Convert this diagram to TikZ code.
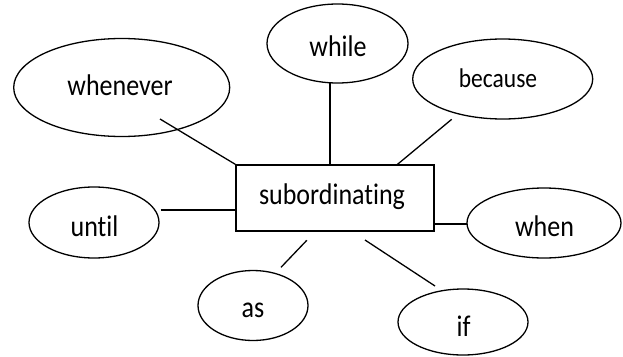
\documentclass[tikz,border=0pt]{standalone}
\usepackage{fontspec}
\setmainfont{Carlito}[Ligatures=NoCommon]
\usetikzlibrary{shapes.geometric}
\newcommand\talltext[1]{\scalebox{1}[1.15]{#1}}
\begin{document}
\begin{tikzpicture}[x=1pt,y=-1pt,
  oval/.style={draw=black,line width=1.3pt,ellipse,inner sep=0pt},
  word/.style={inner sep=0pt,anchor=center,font=\fontsize{26}{30}\selectfont},
  small/.style={inner sep=0pt,anchor=center,font=\fontsize{23.5}{28}\selectfont},
  link/.style={draw=black,line width=1.3pt}]
\useasboundingbox (0,0) rectangle (623,356);
% central box
\node[draw=black,line width=1.3pt,minimum width=198pt,minimum height=66pt,inner sep=0pt] (sub) at (335,198) {};
\node[word] (subt) at (332,197) {\talltext{subordinating}};
% ellipses
\node[oval,minimum width=216pt,minimum height=98pt] (whenever) at (121.7,87.5) {};
\node[word] (whenevert) at (120,85) {\talltext{whenever}};
\node[oval,minimum width=141pt,minimum height=79pt] (while) at (337.5,43.5) {};
\node[word] (whilet) at (338,46.5) {\talltext{while}};
\node[oval,minimum width=180pt,minimum height=80pt] (because) at (502.7,79) {};
\node[small] (becauset) at (498,78.5) {\talltext{because}};
\node[oval,minimum width=130pt,minimum height=71pt] (until) at (94,222.5) {};
\node[word] (untilt) at (94.5,226) {\talltext{until}};
\node[oval,minimum width=154pt,minimum height=70pt] (when) at (544,223) {};
\node[word] (whent) at (544.5,226) {\talltext{when}};
\node[oval,minimum width=110pt,minimum height=70pt] (as) at (253,305.5) {};
\node[word] (ast) at (253,310) {\talltext{as}};
\node[oval,minimum width=130pt,minimum height=66pt] (if) at (463,322) {};
\node[word] (ift) at (463.5,326.5) {\talltext{if}};
% connector end points
\coordinate (c1) at (160,119);
\coordinate (c2) at (330,83);
\coordinate (c3) at (330,165);
\coordinate (c4) at (451.7,119.3);
\coordinate (c5) at (396.7,165);
\coordinate (c6) at (160.5,210);
\coordinate (c7) at (236,210);
\coordinate (c8) at (434,224);
\coordinate (c9) at (467,224);
\coordinate (c10) at (306.8,240.3);
\coordinate (c11) at (281,267.3);
\coordinate (c12) at (365,240);
\coordinate (c13) at (435,286);
% connectors
\draw[link] (c1) -- (sub.north west);
\draw[link] (c2) -- (c3);
\draw[link] (c4) -- (c5);
\draw[link] (c6) -- (c7);
\draw[link] (c8) -- (c9);
\draw[link] (c10) -- (c11);
\draw[link] (c12) -- (c13);
\end{tikzpicture}
\end{document}
